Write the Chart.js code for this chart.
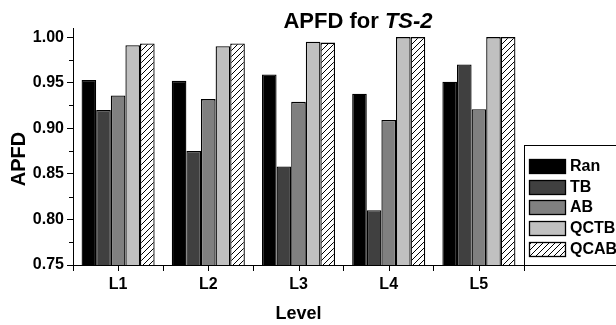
<!DOCTYPE html>
<html>
<head>
<meta charset="utf-8">
<script src="https://cdn.jsdelivr.net/npm/chart.js@4/dist/chart.umd.min.js"></script>
<style>
  html, body { margin: 0; padding: 0; background: #fff; }
  canvas { display: block; }
</style>
</head>
<body>
<canvas id="apfdChart" width="616" height="325"></canvas>
<script>
const levels = ['L1', 'L2', 'L3', 'L4', 'L5'];
const ran = [0.953, 0.952, 0.959, 0.938, 0.951];
const tb = [0.920, 0.875, 0.858, 0.810, 0.970];
const ab = [0.936, 0.932, 0.929, 0.909, 0.921];
const qctb = [0.991, 0.990, 0.995, 1.000, 1.000];
const qcab = [0.993, 0.993, 0.994, 1.000, 1.000];
const seriesNames = ['Ran', 'TB', 'AB', 'QCTB', 'QCAB'];
const yTicks = [0.75, 0.80, 0.85, 0.90, 0.95, 1.00];

// hatch pattern for QCAB
const makeHatch = () => {
    const c = document.createElement('canvas');
    c.width = 6; c.height = 6;
    const g = c.getContext('2d');
    g.fillStyle = '#fff';
    g.fillRect(0, 0, 6, 6);
    g.strokeStyle = '#000';
    g.lineWidth = 1;
    g.beginPath();
    g.moveTo(-1, 7); g.lineTo(7, -1);
    g.moveTo(-4, 4); g.lineTo(4, -4);
    g.moveTo(2, 10); g.lineTo(10, 2);
    g.stroke();
    return g.createPattern(c, 'repeat');
};
const ctx = document.getElementById('apfdChart').getContext('2d');
const hatch = makeHatch();
const fills = ['#000000', '#404040', '#808080', '#c0c0c0', hatch];

const FONT = 'Arial, "Liberation Sans", sans-serif';

const extras = {
    id: 'extras',
    afterDraw(chart) {
        const c = chart.ctx;
        const x = chart.scales.x;
        const y = chart.scales.y;
        c.save();
        c.strokeStyle = '#000';
        c.lineWidth = 1;
        // minor y ticks
        for (let i = 0; i < yTicks.length - 1; i++) {
            const py = Math.round(y.getPixelForValue((yTicks[i] + yTicks[i + 1]) / 2)) + 0.5;
            c.beginPath();
            c.moveTo(x.left - 4, py); c.lineTo(x.left, py);
            c.stroke();
        }
        // x ticks at category centers
        levels.forEach((_, i) => {
            const px = Math.round(x.getPixelForValue(i)) + 0.5;
            c.beginPath();
            c.moveTo(px, y.bottom); c.lineTo(px, y.bottom + 6);
            c.stroke();
        });

        // y axis title
        c.fillStyle = '#000';
        c.save();
        c.translate(19, 159);
        c.rotate(-Math.PI / 2);
        c.font = 'bold 20px ' + FONT;
        c.textAlign = 'center';
        c.textBaseline = 'middle';
        c.fillText('APFD', 0, 0);
        c.restore();

        // title with italic part
        c.textBaseline = 'alphabetic';
        c.font = 'bold 22px ' + FONT;
        const part1 = 'APFD for ';
        const w1 = c.measureText(part1).width;
        c.font = 'italic bold 22px ' + FONT;
        const w2 = c.measureText('TS-2').width;
        const start = 358 - (w1 + w2) / 2;
        c.font = 'bold 22px ' + FONT;
        c.fillText(part1, start, 28);
        c.font = 'italic bold 22px ' + FONT;
        c.fillText('TS-2', start + w1, 28);

        // legend box
        c.strokeRect(524.5, 145.5, 110, 120);
        c.font = 'bold 16px ' + FONT;
        c.textBaseline = 'middle';
        c.lineWidth = 1.3;
        seriesNames.forEach((name, i) => {
            const top = Math.round(159 + i * 20.7);
            c.fillStyle = fills[i];
            c.fillRect(529.5, top + 0.5, 36, 14);
            c.strokeRect(529.5, top + 0.5, 36, 14);
            c.fillStyle = '#000';
            c.fillText(name, 570, top + 8);
        });
        c.restore();
    }
};

new Chart(ctx, {
    type: 'bar',
    data: {
        labels: levels,
        datasets: [ran, tb, ab, qctb, qcab].map((d, i) => ({
            label: seriesNames[i],
            data: d,
            backgroundColor: fills[i],
            borderColor: '#000',
            borderWidth: 1.3,
            borderSkipped: 'bottom',
            barPercentage: 1.0,
            categoryPercentage: 0.81
        }))
    },
    options: {
        responsive: false,
        animation: false,
        layout: { padding: { top: 28, right: 92, left: 0, bottom: 0 } },
        plugins: {
            legend: { display: false },
            title: { display: false },
            tooltip: { enabled: false }
        },
        scales: {
            x: {
                afterFit: (s) => { s.height = 60; },
                border: { display: true, color: '#000', width: 1 },
                grid: { offset: true, drawOnChartArea: false, tickLength: 6, color: '#000' },
                ticks: { color: '#000', font: { family: FONT, size: 16, weight: 'bold' }, padding: 4 },
                title: {
                    display: true, text: 'Level', color: '#000',
                    font: { family: FONT, size: 18, weight: 'bold' },
                    padding: { top: 0, bottom: 0 }
                }
            },
            y: {
                min: 0.75,
                max: 1.01,
                afterFit: (s) => { s.width = 73; },
                afterBuildTicks: (s) => { s.ticks = yTicks.map(v => ({ value: v })); },
                border: { display: true, color: '#000', width: 1 },
                grid: { drawOnChartArea: false, tickLength: 6, color: '#000' },
                ticks: {
                    color: '#000', padding: 3,
                    font: { family: FONT, size: 16, weight: 'bold' },
                    callback: (v) => v.toFixed(2)
                },
                title: { display: false }
            }
        }
    },
    plugins: [extras]
});
</script>
</body>
</html>
